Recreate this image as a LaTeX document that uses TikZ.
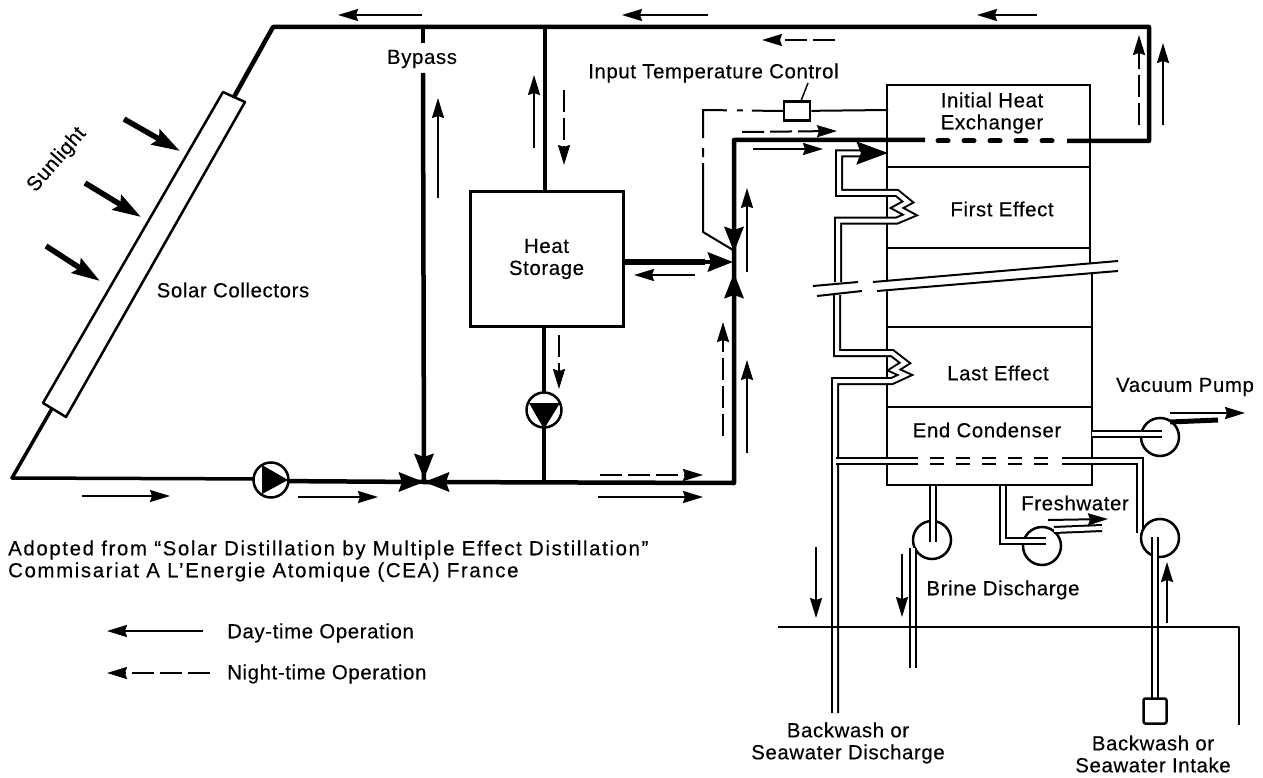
\documentclass[tikz,border=0pt]{standalone}
\usepackage{fontspec}
\setmainfont[LetterSpace=3,FakeBold=0.3]{Liberation Sans}
\usetikzlibrary{arrows.meta}
\tikzset{
 x=1pt,y=-1pt,
 lbl/.style={inner sep=0pt,font=\fontsize{20.4}{22}\selectfont,align=center,text=black},
 lblwide/.style={lbl,font=\fontsize{20.4}{22}\selectfont\addfontfeatures{LetterSpace=8},align=left},
 pipe/.style={line width=4.5pt,line join=round},
 wall/.style={line width=2.5pt,line cap=round},
 dbl/.style={double=white,double distance=4pt,line width=2pt,line join=miter},
 flow/.style={line width=2pt,-{Stealth[length=20pt,width=12pt,inset=2pt]}},
 nflow/.style={line width=2pt,dash pattern=on 22pt off 6pt,-{Stealth[length=20pt,width=12pt,inset=2pt]}},
 sun/.style={line width=5.5pt,-{Stealth[length=28pt,width=17pt,inset=4pt]}},
 valve/.style={line width=4.5pt,-{Stealth[length=25pt,width=19pt,inset=3pt]}},
 pumpc/.style={circle,draw,line width=2.5pt,fill=white,minimum size=38pt,inner sep=0pt},
}
\begin{document}
\begin{tikzpicture}
\useasboundingbox (0,0) rectangle (1263,778);
% named points
\coordinate (cA) at (273,27); \coordinate (cB) at (1149,27); \coordinate (cC) at (12,478);
\coordinate (cD) at (1149,141); \coordinate (cE) at (734,140); \coordinate (cF) at (734,483);
\coordinate (vL) at (424,482); \coordinate (vR) at (733,262);
% solar loop
\draw[pipe] (234,97) -- (cA) -- (cB) -- (cD) -- (1067,141);
\draw[line width=5pt,line cap=round,dash pattern=on 10pt off 16pt] (1052,141) -- (936,141);
\draw[pipe] (925,140) -- (cE) -- (cF) -- (vL);
\draw[line width=3.5pt,line join=round] (54,405) -- (cC) -- (271,479);
\draw[line width=4.5pt] (271,481) -- (vL);
% collector
\draw[line width=2.5pt,fill=white,line join=round] (223,92) -- (245,102) -- (66,417) -- (43,403) -- cycle;
% bypass, storage
\draw[pipe] (423,27) -- (423,43);
\draw[pipe] (423,73) -- (vL);
\draw[pipe] (545,27) -- (545,192);
\node (store) [draw,line width=3pt,minimum width=153pt,minimum height=134pt,inner sep=0pt,lbl] at (546.5,259) {Heat\\Storage};
\draw[pipe] (544,326) -- (544,392);
\draw[line width=3.5pt] (544,428) -- (544,483);
\draw[line width=5.5pt] (store.east |- vR) -- (705,262);
% valves
\draw[valve] (396,482) -- (vL);
\draw[valve] (454,482) -- (vL);
\draw[valve] (424,452) -- (424,479);
\draw[valve] (702,262) -- (vR);
\draw[valve] (734,228) -- (734,252);
\draw[valve] (734,295) -- (734,273);
% storage pump
\node (p1) [circle,draw,line width=2.5pt,fill=white,minimum size=35pt,inner sep=0pt] at (544,410) {};
\fill (529,403) -- (560,403) -- (544,429) -- cycle;
% loop pump
\node (p2) [circle,draw,line width=2.5pt,fill=white,minimum size=35pt,inner sep=0pt] at (271,480) {};
\fill (262,465) -- (288,480) -- (262,494) -- cycle;
% control
\node (ctrl) [draw,line width=2.5pt,minimum width=26pt,minimum height=19pt,inner sep=0pt] at (797,111) {};
\draw[line width=2pt] (ctrl) -- (888,110);
\draw[line width=2pt,line join=round,dash pattern=on 31pt off 9pt on 6pt off 10pt on 52pt off 10pt on 9pt off 6pt on 300pt off 1pt] (ctrl.west) -- (703,110) -- (703,232) -- (733,250);
\draw[line width=1.5pt] (808,83) -- (ctrl);
% tower walls
\draw[wall] (887,280) -- (887,85) -- (1090,85) -- (1090,262);
\draw[wall] (887,167) -- (1090,167);
\draw[wall] (887,248) -- (1090,248);
\draw[wall] (887,292) -- (887,485) -- (1092,485) -- (1092,273);
\draw[wall] (887,327) -- (1092,327);
\draw[wall] (887,407) -- (1092,407);
% break lines
\draw[line width=2pt] (813,286) -- (858,282) (873,282) -- (1118,261);
\draw[line width=2pt] (817,296) -- (862,291) (877,291) -- (1118,271);
% coils
\draw[dbl] (872,153.5) -- (839,153.5) -- (839,193) -- (897,193) -- (908,202) -- (897,208) -- (910,215) -- (897,220.5) -- (838,220.5) -- (838,282);
\draw[line width=2pt,fill=black] (858,143) -- (885,153) -- (858,163) -- (862,153) -- cycle;
\draw[dbl] (837,295) -- (837,353) -- (892,353) -- (905,363) -- (894,370) -- (905,375) -- (892,381) -- (835,381) -- (835,713);
% cooling
\draw[dbl] (836,460.5) -- (918,460.5);
\draw[dbl,dash pattern=on 14pt off 12pt] (930,460.5) -- (1052,460.5);
\draw[dbl] (1062,460.5) -- (1140,460.5) -- (1140,533);
% pumps
\node (pv) [pumpc] at (1160,437) {};
\node (pb) [pumpc] at (932,540) {};
\node (pf) [pumpc] at (1042,546) {};
\node (pi) [pumpc] at (1160,538) {};
\draw[dbl] (1092,434) -- (1162,434);
\draw[line width=5pt] (1170,422) -- (1218,420);
\draw[dbl] (933,486) -- (933,542);
\draw[dbl] (1003,486) -- (1003,541) -- (1046,541);
\draw[dbl] (1054,530) -- (1102,528);
\draw[dbl] (913,548) -- (913,668);
\draw[dbl] (1155,537) -- (1155,699);
\node (intake) [draw,line width=2.5pt,rounded corners=2pt,minimum width=23pt,minimum height=25pt,inner sep=0pt] at (1155,711) {};
% ground
\draw[line width=2pt,line join=round] (778,627) -- (1239,627) -- (1239,725);
% flow arrows
\draw[flow] (422,15) -- (338,15);
\draw[flow] (708,15) -- (622,15);
\draw[flow] (1037,15) -- (977,15);
\draw[nflow] (835,40) -- (762,40);
\draw[flow] (438,198) -- (438,98);
\draw[flow] (534,148) -- (534,75);
\draw[nflow] (564,90) -- (564,165);
\draw[flow] (695,275) -- (634,275);
\draw[nflow] (559,335) -- (559,389);
\draw[flow] (747,272) -- (747,188);
\draw[flow] (747,453) -- (747,360);
\draw[nflow] (723,436) -- (723,322);
\draw[nflow] (742,132) -- (837,131);
\draw[flow] (753,149) -- (823,149);
\draw[nflow] (1139,125) -- (1139,35);
\draw[flow] (1163,125) -- (1163,43);
\draw[flow] (82,496) -- (170,496);
\draw[flow] (298,497) -- (378,497);
\draw[nflow] (600,475) -- (703,475);
\draw[flow] (598,497) -- (703,497);
\draw[flow] (1170,413) -- (1245,413);
\draw[flow] (1048,520) -- (1108,519);
\draw[flow] (816,547) -- (816,618);
\draw[flow] (902,554) -- (902,617);
\draw[flow] (1167,623) -- (1167,562);
\draw[sun] (124,119) -- (180,151);
\draw[sun] (85,183) -- (141,217);
\draw[sun] (46,246) -- (100,281);
% labels
\node (t1) [lbl,rotate=49] at (57,160) {Sunlight};
\node (t2) [lbl] at (233,290) {Solar Collectors};
\node (t3) [lbl] at (422,59) {Bypass};
\node (t4) [lbl,anchor=west] at (588,73) {Input Temperature Control};
\node (t5) [lbl] at (992,113) {Initial Heat\\Exchanger};
\node (t6) [lbl] at (1002,209) {First Effect};
\node (t7) [lbl] at (998,373) {Last Effect};
\node (t8) [lbl] at (987,430) {End Condenser};
\node (t9) [lbl] at (1185,387) {Vacuum Pump};
\node (t10) [lbl] at (1075,503) {Freshwater};
\node (t11) [lbl] at (1003,590) {Brine Discharge};
\node (t12) [lbl] at (848,743) {Backwash or\\Seawater Discharge};
\node (t13) [lbl] at (1153,754) {Backwash or\\Seawater Intake};
\node (t14) [lblwide,anchor=west] at (8,561) {Adopted from ``Solar Distillation by Multiple Effect Distillation''\\Commisariat A L'Energie Atomique (CEA) France};
\draw[flow] (203,631) -- (107,631);
\draw[nflow] (210,673) -- (107,673);
\node (t15) [lbl,anchor=west] at (227,633) {Day-time Operation};
\node (t16) [lbl,anchor=west] at (227,674) {Night-time Operation};
\end{tikzpicture}
\end{document}
